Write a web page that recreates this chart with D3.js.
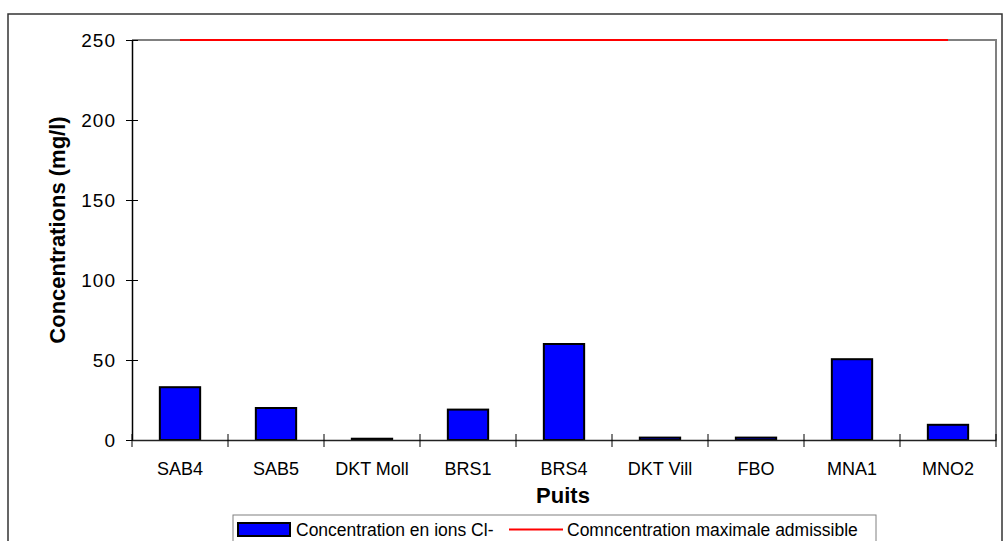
<!DOCTYPE html>
<html>
<head>
<meta charset="utf-8">
<script src="https://cdn.jsdelivr.net/npm/d3@7"></script>
<style>
  html, body { margin: 0; padding: 0; background: #fff; }
  svg { display: block; font-family: Arial, "Liberation Sans", sans-serif; }
</style>
</head>
<body>
<svg id="chart" width="1003" height="541"></svg>
<script>
const categories = ["SAB4", "SAB5", "DKT Moll", "BRS1", "BRS4", "DKT Vill", "FBO", "MNA1", "MNO2"];
const chlorideValues = [33, 20, 0.8, 19, 60, 1.5, 1.5, 50.5, 9.5];
const maxAdmissible = [250, 250, 250, 250, 250, 250, 250, 250, 250];
const yTicks = [0, 50, 100, 150, 200, 250];
const seriesNames = ["Concentration en ions Cl-", "Comncentration maximale admissible"];
const xTitle = "Puits";
const yTitle = "Concentrations (mg/l)";

const svg = d3.select("#chart");
const plot = { left: 132, right: 996, top: 40, bottom: 440 };

// outer frame
svg.append("rect")
  .attr("x", 8).attr("y", 14)
  .attr("width", 994).attr("height", 560)
  .attr("fill", "none").attr("stroke", "#333").attr("stroke-width", 1.5);

const x = d3.scaleBand().domain(categories).range([plot.left, plot.right]).padding(0);
const y = d3.scaleLinear().domain([0, 250]).range([plot.bottom, plot.top]);

// plot border top and right (gray)
svg.append("path")
  .attr("d", `M${plot.left},${y(250)}H${plot.right}V${y(0)}`)
  .attr("fill", "none").attr("stroke", "#808080").attr("stroke-width", 2);

// bars
const barW = x.bandwidth() * 0.42;
svg.append("g").selectAll("rect")
  .data(categories)
  .join("rect")
  .attr("x", (d) => x(d) + (x.bandwidth() - barW) / 2)
  .attr("y", (d, i) => y(chlorideValues[i]))
  .attr("width", barW)
  .attr("height", (d, i) => y(0) - y(chlorideValues[i]))
  .attr("fill", "#0000ff")
  .attr("stroke", "#000")
  .attr("stroke-width", 2);

// red line
const line = d3.line()
  .x((d, i) => x(categories[i]) + x.bandwidth() / 2)
  .y((d) => y(d));
svg.append("path")
  .datum(maxAdmissible)
  .attr("d", line)
  .attr("fill", "none")
  .attr("stroke", "#ff0000")
  .attr("stroke-width", 2);

// y axis
const yAxis = d3.axisLeft(y).tickValues(yTicks).tickSizeInner(6).tickSizeOuter(0).tickPadding(11);
const gy = svg.append("g").attr("transform", `translate(${plot.left},0)`).call(yAxis);
gy.select(".domain").attr("stroke", "#000").attr("stroke-width", 1.5);
gy.selectAll(".tick line").attr("x2", -6).attr("x1", 6).attr("stroke", "#000");
gy.selectAll(".tick text").attr("font-size", 19).attr("fill", "#000")
  .attr("letter-spacing", 1)
  .attr("font-family", "Arial, 'Liberation Sans', sans-serif").attr("x", -16);

// x axis
const xAxis = d3.axisBottom(x).tickSize(0).tickPadding(22);
const gx = svg.append("g").attr("transform", `translate(0,${plot.bottom})`).call(xAxis);
gx.select(".domain").attr("stroke", "#222").attr("stroke-width", 1.5);
gx.selectAll(".tick text").attr("font-size", 18).attr("fill", "#000")
  .attr("font-family", "Arial, 'Liberation Sans', sans-serif");
// category boundary tick marks
const bounds = categories.map((c) => x(c)).concat([plot.right]);
svg.append("g").selectAll("line")
  .data(bounds)
  .join("line")
  .attr("x1", (d) => d).attr("x2", (d) => d)
  .attr("y1", plot.bottom - 6).attr("y2", plot.bottom + 7)
  .attr("stroke", "#000").attr("stroke-width", 1);

// axis titles
svg.append("text")
  .attr("x", (plot.left + plot.right) / 2 - 1).attr("y", 503)
  .attr("text-anchor", "middle")
  .attr("font-size", 22).attr("font-weight", "bold")
  .text(xTitle);
svg.append("text")
  .attr("transform", `translate(65,230) rotate(-90)`)
  .attr("text-anchor", "middle")
  .attr("font-size", 22).attr("font-weight", "bold")
  .text(yTitle);

// legend
const lg = svg.append("g");
lg.append("rect")
  .attr("x", 233).attr("y", 515).attr("width", 643).attr("height", 40)
  .attr("fill", "#fff").attr("stroke", "#808080").attr("stroke-width", 1);
lg.append("rect")
  .attr("x", 238).attr("y", 523).attr("width", 52).attr("height", 13)
  .attr("fill", "#0000ff").attr("stroke", "#000").attr("stroke-width", 2);
lg.append("text").attr("x", 296).attr("y", 536).attr("font-size", 17.5).text(seriesNames[0]);
lg.append("line")
  .attr("x1", 509).attr("x2", 563).attr("y1", 529.5).attr("y2", 529.5)
  .attr("stroke", "#ff0000").attr("stroke-width", 2);
lg.append("text").attr("x", 567).attr("y", 536).attr("font-size", 17.5).text(seriesNames[1]);
</script>
</body>
</html>
